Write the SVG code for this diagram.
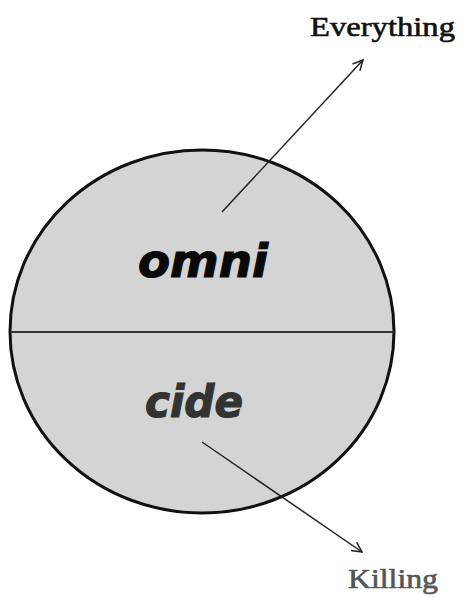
<svg xmlns="http://www.w3.org/2000/svg" width="463" height="597" viewBox="0 0 463 597">
<style>
.lbl{font-family:"Liberation Serif","DejaVu Serif",serif;stroke-width:0.6;}
.word{font-family:"DejaVu Sans","Verdana",sans-serif;font-weight:bold;font-style:italic;stroke-width:1.2;}
.conn{stroke:#222;stroke-width:1.5;fill:none;}
</style>
<defs>
<marker id="arr" viewBox="0 0 12 12" refX="11" refY="6" markerWidth="12" markerHeight="12" markerUnits="userSpaceOnUse" orient="auto">
<path d="M1,1 L11,6 L1,11" fill="none" stroke="#222" stroke-width="1.5"/>
</marker>
</defs>
<rect width="463" height="597" fill="#ffffff"/>
<g id="circle">
<ellipse cx="202" cy="331.5" rx="192" ry="181.5" fill="#d4d4d4" stroke="#111" stroke-width="3"/>
<line x1="10" y1="332" x2="394" y2="332" stroke="#333" stroke-width="2"/>
</g>
<g id="omni"><text class="word" x="138" y="277" font-size="46" fill="#0a0a0a" stroke="#0a0a0a" textLength="130" lengthAdjust="spacingAndGlyphs">omni</text></g>
<g id="cide"><text class="word" x="145" y="417" font-size="44" fill="#333333" stroke="#333333" textLength="98" lengthAdjust="spacingAndGlyphs">cide</text></g>
<g id="everything"><text class="lbl" x="310" y="36" font-size="27" fill="#111" stroke="#111" textLength="145" lengthAdjust="spacingAndGlyphs">Everything</text></g>
<g id="killing"><text class="lbl" x="348" y="588" font-size="28" fill="#555" stroke="#555" textLength="90" lengthAdjust="spacingAndGlyphs">Killing</text></g>
<g id="connectors">
<line class="conn" x1="222" y1="212" x2="363" y2="60" marker-end="url(#arr)"/>
<line class="conn" x1="202" y1="442" x2="362" y2="552" marker-end="url(#arr)"/>
</g>
</svg>
